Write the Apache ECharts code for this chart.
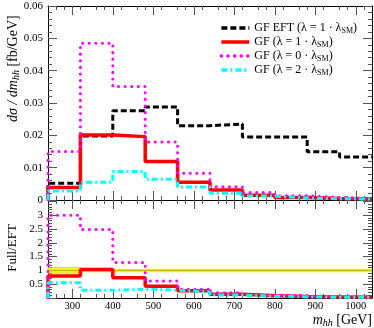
<!DOCTYPE html>
<html>
<head>
<meta charset="utf-8">
<script src="https://cdn.jsdelivr.net/npm/echarts@6/dist/echarts.min.js"></script>
<style>
  html, body { margin: 0; padding: 0; background: #fff; }
  #chart { width: 374px; height: 328px; }
</style>
</head>
<body>
<div id="chart"></div>
<script>
// --- Data ---
var binEdges = [240, 320, 400, 480, 560, 640, 720, 800, 880, 960, 1040];
var xTicks = [300, 400, 500, 600, 700, 800, 900, 1000];

// d sigma / d m_hh  [fb/GeV]
var gfEft  = [0.0052, 0.0198, 0.0276, 0.0288, 0.0230, 0.0235, 0.0195, 0.0195, 0.0149, 0.0133];
var gfLam1 = [0.0039, 0.0201, 0.0196, 0.0119, 0.0055, 0.0031, 0.0015, 0.0008, 0.0005, 0.0004];
var gfLam0 = [0.0150, 0.0485, 0.0351, 0.0179, 0.0083, 0.0041, 0.0023, 0.0013, 0.0008, 0.0005];
var gfLam2 = [0.0028, 0.0055, 0.0088, 0.0064, 0.0040, 0.0021, 0.0012, 0.0006, 0.0004, 0.0003];

// Full / EFT
var ratioLam1 = [0.80, 1.03, 0.73, 0.43, 0.26, 0.14, 0.08, 0.05, 0.04, 0.03];
var ratioLam0 = [3.00, 2.48, 1.29, 0.62, 0.32, 0.19, 0.11, 0.07, 0.05, 0.04];
var ratioLam2 = [0.55, 0.28, 0.32, 0.28, 0.22, 0.11, 0.06, 0.04, 0.03, 0.03];
var bandFirstBin = [0.9, 1.1];  // yellow band in first bin

var names = [
  'GF EFT (λ = 1 · λ{sub|SM})',
  'GF (λ = 1 · λ{sub|SM})',
  'GF (λ = 0 · λ{sub|SM})',
  'GF (λ = 2 · λ{sub|SM})'
];

// --- Helpers ---
var FONT = 'Liberation Serif';

// turn bin contents into step points
function histo(vals) {
  var pts = [[binEdges[0], 0]];
  for (var i = 0; i < vals.length; i++) {
    pts.push([binEdges[i], vals[i]]);
  }
  pts.push([binEdges[binEdges.length - 1], vals[vals.length - 1]]);
  return pts;
}

var styles = [
  {color: '#000000', width: 3, type: [6, 3], cap: 'butt'},
  {color: '#ff0000', width: 3.5, type: 'solid', cap: 'butt'},
  {color: '#ff00ff', width: 3, type: [0.1, 6.5], cap: 'round'},
  {color: '#00ffff', width: 3, type: [6, 3, 2, 3], cap: 'butt'}
];

function histSeries(idx, vals, grid) {
  var s = styles[idx];
  return {
    name: names[idx],
    type: 'line',
    step: 'end',
    xAxisIndex: grid * 2,
    yAxisIndex: grid * 2,
    symbol: 'none',
    silent: true,
    z: 3 + idx,
    lineStyle: {color: s.color, width: s.width, type: s.type, cap: s.cap},
    itemStyle: {color: s.color},
    data: histo(vals)
  };
}

function xAxisDef(grid, pos, labels) {
  return {
    type: 'value', gridIndex: grid, position: pos,
    min: 240, max: 1040, interval: 100,
    axisLine: {show: true, onZero: false, lineStyle: {color: '#000', width: 1}},
    axisTick: {show: true, inside: true, length: 9, lineStyle: {color: '#555'},
               customValues: xTicks},
    minorTick: {show: true, splitNumber: 5, length: 4, lineStyle: {color: '#555'}},
    axisLabel: {show: labels, color: '#000', fontFamily: FONT, fontSize: 10.5, margin: 3,
                customValues: xTicks, formatter: function (v) { return String(v); }},
    splitLine: {show: false}
  };
}

function yAxisDef(grid, pos, min, max, interval, labels, fmt) {
  return {
    type: 'value', gridIndex: grid, position: pos,
    min: min, max: max, interval: interval,
    axisLine: {show: true, lineStyle: {color: '#000', width: 1}},
    axisTick: {show: true, inside: true, length: 9, lineStyle: {color: '#555'}},
    minorTick: {show: true, splitNumber: 5, length: 4, lineStyle: {color: '#555'}},
    axisLabel: {show: labels, color: '#000', fontFamily: FONT, fontSize: 11, margin: 5,
                formatter: fmt},
    splitLine: {show: false}
  };
}

// --- Chart ---
var chart = echarts.init(document.getElementById('chart'), null, {renderer: 'canvas'});

var series = [
  histSeries(0, gfEft, 0),
  histSeries(1, gfLam1, 0),
  histSeries(2, gfLam0, 0),
  histSeries(3, gfLam2, 0),
  {
    type: 'line', xAxisIndex: 2, yAxisIndex: 2, silent: true, symbol: 'none', z: 2,
    lineStyle: {color: '#f2f21a', width: 3.5},
    data: [[240, 1], [1040, 1]],
    markArea: {
      silent: true,
      itemStyle: {color: '#ffff33', borderColor: '#b8b800', borderWidth: 0.6},
      data: [[{xAxis: binEdges[0], yAxis: bandFirstBin[0]},
              {xAxis: binEdges[1], yAxis: bandFirstBin[1]}]]
    }
  },
  {
    type: 'line', xAxisIndex: 2, yAxisIndex: 2, silent: true, symbol: 'none', z: 2,
    lineStyle: {color: '#a8a800', width: 0.8},
    data: [[240, 1], [1040, 1]]
  },
  histSeries(1, ratioLam1, 1),
  histSeries(2, ratioLam0, 1),
  histSeries(3, ratioLam2, 1)
];

chart.setOption({
  animation: false,
  backgroundColor: '#fff',
  grid: [
    {left: 48, right: 2, top: 6, height: 194},
    {left: 48, right: 2, top: 200, height: 98}
  ],
  legend: {
    data: names,
    orient: 'vertical',
    right: 12,
    top: 17,
    itemWidth: 28,
    itemHeight: 10,
    itemGap: 1.5,
    selectedMode: false,
    // hide the marker dot, keep only the line sample
    itemStyle: {color: 'transparent', borderColor: 'transparent', borderWidth: 0},
    lineStyle: {width: 3.5},
    textStyle: {
      fontFamily: FONT, fontSize: 12, color: '#000',
      rich: {sub: {fontFamily: FONT, fontSize: 8, padding: [5, 0, 0, 0]}}
    }
  },
  xAxis: [
    xAxisDef(0, 'bottom', false),
    xAxisDef(0, 'top', false),
    xAxisDef(1, 'bottom', true),
    xAxisDef(1, 'top', false)
  ],
  yAxis: [
    yAxisDef(0, 'left', 0, 0.06, 0.01, true, function (v) {
      return v === 0 ? '0' : v.toFixed(2);
    }),
    yAxisDef(0, 'right', 0, 0.06, 0.01, false),
    yAxisDef(1, 'left', 0, 3.55, 0.5, true, function (v) {
      return (v === 0 || v > 3) ? '' : String(v);
    }),
    yAxisDef(1, 'right', 0, 3.55, 0.5, false)
  ],
  graphic: [
    {
      type: 'text', x: 13, y: 122, rotation: Math.PI / 2, silent: true,
      style: {
        text: '{it|dσ / dm}{sub|hh} [fb/GeV]',
        textAlign: 'left', textVerticalAlign: 'middle',
        fontFamily: FONT, fontSize: 14, fill: '#000',
        rich: {
          it: {fontFamily: FONT, fontSize: 14, fontStyle: 'italic'},
          sub: {fontFamily: FONT, fontSize: 10, fontStyle: 'italic', padding: [6, 0, 0, 0]}
        }
      }
    },
    {
      type: 'text', x: 13, y: 248, rotation: Math.PI / 2, silent: true,
      style: {
        text: 'Full/EFT', textAlign: 'center', textVerticalAlign: 'middle',
        fontFamily: FONT, fontSize: 13, fill: '#000'
      }
    },
    {
      type: 'text', right: 2, top: 313, silent: true,
      style: {
        text: '{it|m}{sub|hh} [GeV]',
        fontFamily: FONT, fontSize: 14, fill: '#000',
        rich: {
          it: {fontFamily: FONT, fontSize: 14, fontStyle: 'italic'},
          sub: {fontFamily: FONT, fontSize: 10, fontStyle: 'italic', padding: [6, 0, 0, 0]}
        }
      }
    }
  ],
  series: series
});
</script>
</body>
</html>
